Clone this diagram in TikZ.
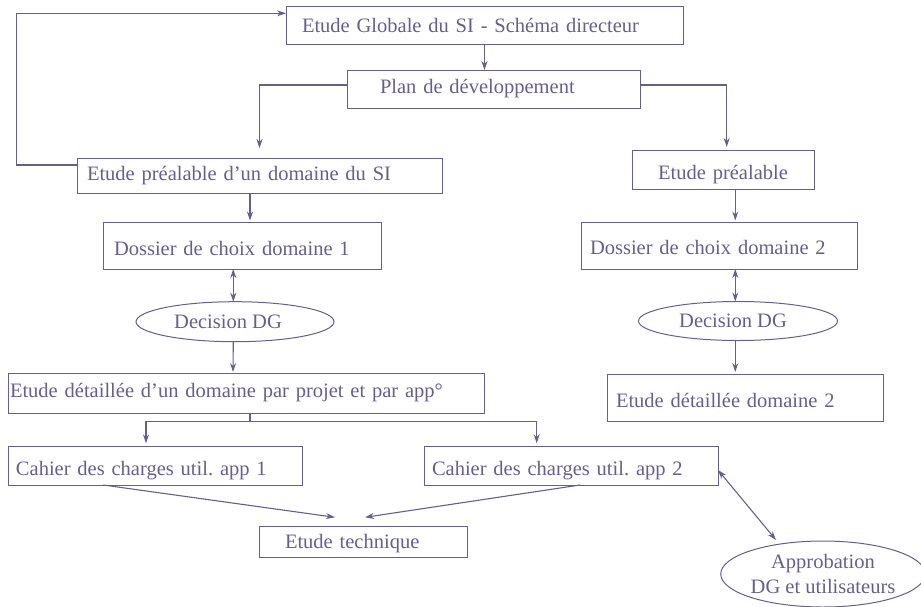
\documentclass[tikz,border=0pt]{standalone}
\usepackage{fontspec}
\setmainfont{Liberation Serif}
\usetikzlibrary{arrows.meta,shapes.geometric}
\definecolor{ink}{RGB}{104,94,140}
\newcommand\lowr[2]{\raisebox{-#1}[\height][\depth]{#2}}
\frenchspacing
\begin{document}
\begin{tikzpicture}[x=1pt,y=-1pt,
  every node/.style={text=ink,font=\fontsize{20.5}{25}\selectfont},
  bx/.style={draw=ink,line width=1pt,rectangle,inner ysep=0pt,outer sep=0pt,align=left},
  el/.style={draw=ink,line width=1pt,ellipse,inner sep=0pt,outer sep=0pt,align=center},
  arr/.style={draw=ink,line width=1.1pt,-{Stealth[length=9pt,width=6pt]}},
  dbl/.style={draw=ink,line width=1.1pt,{Stealth[length=9pt,width=6pt]}-{Stealth[length=9pt,width=6pt]}}]
\useasboundingbox (0,0) rectangle (921,606);

\node[bx,minimum height=38pt,inner xsep=16pt,text width=365pt] (top) at (484.5,25) {Etude Globale du SI - Schéma directeur};
\node[bx,minimum height=38pt,inner xsep=33pt,text width=227pt] (plan) at (493.5,89) {Plan de développement};
\node[bx,minimum height=35pt,inner xsep=10pt,text width=345pt] (epd) at (259.5,175.5) {Etude préalable d’un domaine du SI};
\node[bx,minimum height=39pt,inner xsep=10pt,text width=162pt,align=center] (ep2) at (723,169.5) {\lowr{5pt}{Etude préalable}};
\node[bx,minimum height=47pt,inner xsep=11pt,text width=256pt] (dc1) at (242,245.5) {\lowr{3pt}{Dossier de choix domaine 1}};
\node[bx,minimum height=47pt,inner xsep=9pt,text width=258pt] (dc2) at (719,245.5) {\lowr{2pt}{Dossier de choix domaine 2}};
\node[el,minimum width=198pt,minimum height=40pt] (dg1) at (235,321.7) {\hspace{-14pt}Decision DG};
\node[el,minimum width=199pt,minimum height=39pt] (dg2) at (738,321) {\hspace{-10pt}Decision DG};
\node[bx,minimum height=40pt,inner xsep=2pt,text width=472pt] (ed1) at (246,393) {Etude détaillée d’un domaine par projet et par app°};
\node[bx,minimum height=47pt,inner xsep=9pt,text width=258pt] (ed2) at (745,397.5) {\lowr{3pt}{Etude détaillée domaine 2}};
\node[bx,minimum height=39pt,inner xsep=8pt,text width=278pt] (cc1) at (155,465.5) {\lowr{5pt}{Cahier des charges util. app 1}};
\node[bx,minimum height=39pt,inner xsep=8pt,text width=278pt] (cc2) at (571,465.5) {\lowr{5pt}{Cahier des charges util. app 2}};
\node[bx,minimum height=31pt,inner xsep=26pt,text width=156pt] (et) at (363,541.5) {\lowr{2pt}{Etude technique}};
\node[el,minimum width=200pt,minimum height=66pt] (ap) at (823,574) {Approbation\\DG et utilisateurs};

\coordinate (fb) at (16.3,13.3);
\coordinate (split) at (250,421.7);

\draw[arr] (top.south) -- (top.south |- plan.north);
\draw[arr] ([yshift=4pt]plan.west) -| ([yshift=10pt]epd.north);
\draw[arr] ([yshift=4pt]plan.east) -| ([xshift=3.7pt,yshift=3pt]ep2.north);
\draw[arr] ([yshift=10.5pt]epd.west) -| (fb) -- ([yshift=11.7pt]top.west);
\draw[arr] ([xshift=-9.5pt]epd.south) -- ([xshift=8pt,yshift=1.5pt]dc1.north);
\draw[dbl] ([xshift=-8.7pt]dc1.south) -- ([xshift=-1.7pt]dg1.north);
\draw[arr] ([xshift=-1.7pt]dg1.south) -- ([xshift=-13pt,yshift=1pt]ed1.north);
\draw[arr] ([xshift=12.3pt]ep2.south) -- ([xshift=16.3pt,yshift=1.5pt]dc2.north);
\draw[dbl] ([xshift=16.3pt]dc2.south) -- ([xshift=-2.7pt]dg2.north);
\draw[arr] ([xshift=-2.7pt]dg2.south) -- ([xshift=-9.7pt,yshift=2pt]ed2.north);
\draw[line width=1.1pt,draw=ink] ([xshift=4pt]ed1.south) -- (split);
\draw[arr] (split) -| ([xshift=-9pt,yshift=2.7pt]cc1.north);
\draw[arr] (split) -| ([xshift=-34.3pt,yshift=2.7pt]cc2.north);
\draw[arr] ([xshift=-51.7pt]cc1.south) -- ([xshift=-28pt,yshift=8.7pt]et.north);
\draw[arr] ([xshift=9pt]cc2.south) -- ([xshift=2pt,yshift=8.7pt]et.north);
\draw[dbl] ([yshift=-4.5pt]cc2.east) -- ([shift={(-47pt,34pt)}]ap.center);
\end{tikzpicture}
\end{document}
